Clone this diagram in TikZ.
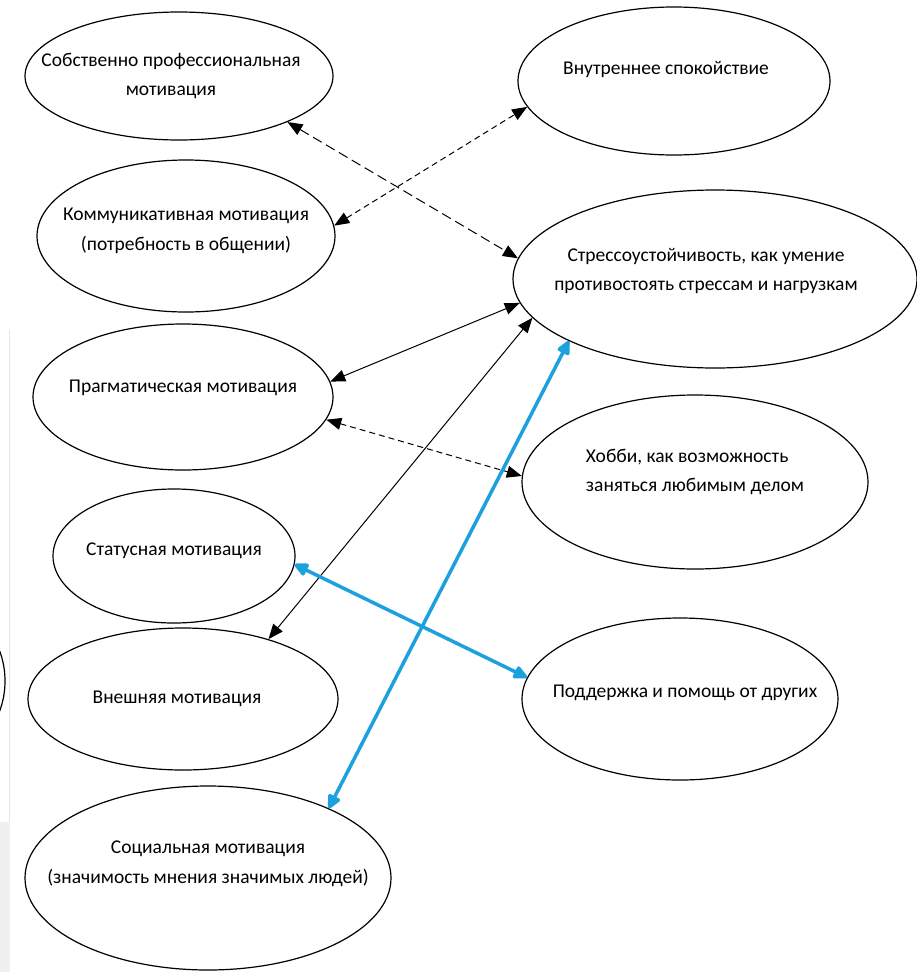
\documentclass[tikz,border=0pt]{standalone}
\usepackage{fontspec}
\setmainfont{Carlito}
\usepackage{xcolor}
\usetikzlibrary{shapes.geometric, arrows.meta, positioning, calc}
\definecolor{lineblue}{RGB}{28,160,222}

\begin{document}
\begin{tikzpicture}[
    x=1pt, y=-1pt,
    oval/.style={ellipse, draw, line width=1.2pt, inner sep=0pt},
    txt/.style={font=\fontsize{19.5}{29.5}\selectfont, align=center, text=black},
    arrow/.style={line width=1pt, {Triangle[length=15pt,width=12pt]}-{Triangle[length=15pt,width=12pt]}},
    longdash/.style={arrow, dash pattern=on 10pt off 5pt},
    shortdash/.style={arrow, dash pattern=on 6pt off 4pt},
    bluearrow/.style={line width=3.5pt, lineblue, {Triangle[round,length=16pt,width=14pt]}-{Triangle[round,length=16pt,width=14pt]}}
]
\useasboundingbox (0,0) rectangle (916,972);

% page edge
\fill[gray!12] (0,822) rectangle (10,972);
\draw[gray!20] (9,330) -- (9,822);
\draw[line width=1.2pt] (-35,681) ellipse [x radius=40, y radius=60];

% Motivation (left)
\node[oval, minimum width=308, minimum height=128,
      label={[txt, xshift=-8]center:Собственно профессиональная\\мотивация}] (prof) at (179,76) {};
\node[oval, minimum width=298, minimum height=152,
      label={[txt, yshift=5]center:Коммуникативная мотивация\\(потребность в общении)}] (komm) at (186,236) {};
\node[oval, minimum width=300, minimum height=146,
      label={[txt, yshift=9]center:Прагматическая мотивация}] (prag) at (183,397) {};
\node[oval, minimum width=242, minimum height=134,
      label={[txt, yshift=5]center:Статусная мотивация}] (stat) at (174,556) {};
\node[oval, minimum width=310, minimum height=142,
      label={[txt, xshift=-6]center:Внешняя мотивация}] (vnesh) at (183,699) {};
\node[oval, minimum width=366, minimum height=184,
      label={[txt, yshift=14]center:Социальная мотивация\\(значимость мнения значимых людей)}] (soc) at (208,878) {};

% Resources (right)
\node[oval, minimum width=312, minimum height=148,
      label={[txt, xshift=-8, yshift=12]center:Внутреннее спокойствие}] (vnutr) at (674,81) {};
\node[oval, minimum width=404, minimum height=178,
      label={[txt, xshift=-9, yshift=8]center:{Стрессоустойчивость, как умение\\противостоять стрессам и нагрузкам}}] (stress) at (715,279) {};
\node[oval, minimum width=346, minimum height=174,
      label={[txt, align=left, yshift=10]center:{Хобби, как возможность\\заняться любимым делом}}] (hobby) at (695,482) {};
\node[oval, minimum width=316, minimum height=162,
      label={[txt, xshift=5, yshift=6]center:Поддержка и помощь от других}] (podd) at (680,699) {};

% Arrows
\draw[longdash] (prof.-23) -- (stress.174);
\draw[shortdash] (komm.4) -- (vnutr.190);
\draw[arrow] (prag.6) -- (stress.187);
\draw[shortdash] (prag.-9) -- (hobby.178);
\draw[arrow] (vnesh.35) -- (stress.192);
\draw[bluearrow] (stat.-4) -- (podd.172);
\draw[bluearrow] (soc.30) -- (stress.203);

\end{tikzpicture}
\end{document}
